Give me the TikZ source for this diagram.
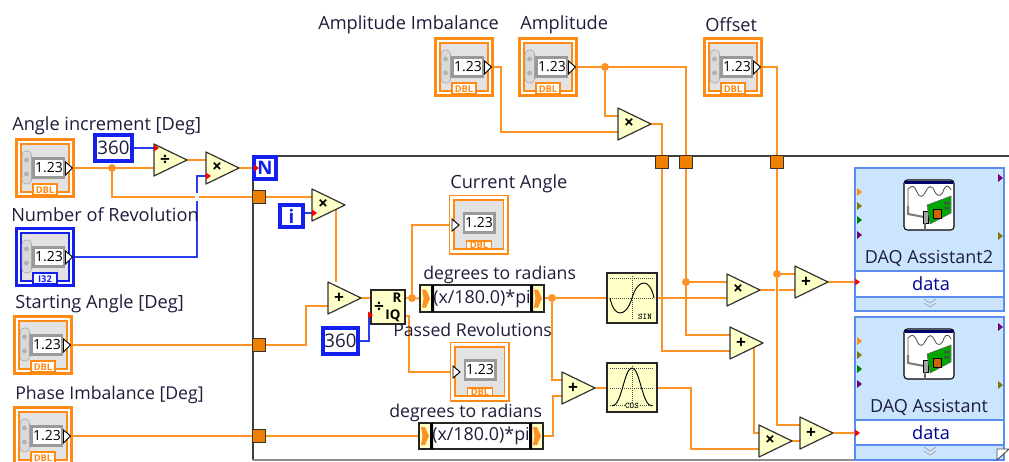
\documentclass[tikz,border=0pt]{standalone}
\usepackage{fontspec}
\setmainfont{Open Sans}
\usetikzlibrary{backgrounds}
\definecolor{wireo}{HTML}{FF9224}
\definecolor{tago}{HTML}{FF8A14}
\definecolor{wireb}{HTML}{2A3CF0}
\definecolor{tagb}{HTML}{1420F0}
\definecolor{prim}{HTML}{FFFFC8}
\definecolor{tun}{HTML}{F08000}
\definecolor{daqb}{HTML}{CCE5FF}
\definecolor{daql}{HTML}{5C8CF0}
\definecolor{ink}{HTML}{1E1E3C}
\definecolor{panel}{HTML}{E2E2E2}
\tikzset{
  x=0.75pt,y=-0.75pt,
  wire/.style={draw=wireo,line width=1.5pt},
  bwire/.style={draw=wireb,line width=1.5pt},
  lab/.style={text=ink,font=\fontsize{13.65pt}{15pt}\selectfont,inner sep=0pt,anchor=west},
  labs/.style={lab,font=\fontsize{13.25pt}{15pt}\selectfont},
  tunnel/.style={draw=black!80,fill=tun,line width=1pt,minimum size=9.5pt,inner sep=0pt,outer sep=0pt},
  junction/.style={fill=wireo,circle,minimum size=6pt,inner sep=0pt},
  primshape/.style={draw=black!80,fill=prim,line width=0.9pt,line join=round},
  constbox/.style={draw=tagb,fill=white,line width=2.4pt,inner sep=0pt,outer sep=0pt,text=ink,font=\fontsize{14pt}{15pt}\selectfont},
  funcbox/.style={draw=black!85,fill=prim,line width=1pt,inner sep=0pt,outer sep=0pt},
  tagtxt/.style={font=\bfseries\fontsize{7pt}{7pt}\selectfont,inner sep=0pt},
  dashgrid/.style={draw=black!70,densely dotted,line width=0.5pt},
}
% box from pixel corners
\newcommand{\pxbox}[7][]{\node[#2,#1,minimum width={(#5-#3)*0.75pt},minimum height={abs(#6-#4)*0.75pt}] (#7) at ({(#3+#5)/2},{(#4+#6)/2})}
% control terminal
\newcommand{\ctlicon}[6]{%
 \begin{scope}[shift={(#2,#3)}]
  \path[draw=#4,line width=2.4pt] (1.5,1.5) rectangle (58.5,58.5);
  \path[draw=#4,fill=panel,line width=1pt] (6,6) rectangle (54,54);
  \path[fill=black!40] (16,19) rectangle (50,41);
  \path[fill=black!15,draw=black!35,line width=.4pt,rounded corners=3pt] (7,13) rectangle (16.5,46);
  \path[fill=black!30] (11.5,22) circle (2.4) (11.5,36) circle (2.4);
  \node[fill=white,inner sep=0pt,minimum width=21pt,minimum height=12.5pt,font=\fontsize{10.5pt}{12pt}\selectfont] (#1-num) at (34,30) {1.23};
  \path[draw=black,fill=white,line width=.7pt] (50.5,24) -- (57.5,30) -- (50.5,37) -- cycle;
  \path[draw=#4,fill=white,line width=1pt] (18,46) rectangle (42,57);
  \node[tagtxt,text=#4] (#1-tag) at (30,52) {#5};
  \coordinate (#1-o) at (59,#6);
 \end{scope}}
% indicator terminal
\newcommand{\indicon}[4]{%
 \begin{scope}[shift={(#2,#3)}]
  \path[draw=tago,fill=white,line width=1.2pt] (0.5,0.5) rectangle (59,59);
  \path[draw=tago,fill=panel,line width=1.2pt] (5,5) rectangle (54.5,54);
  \path[fill=black!40] (14,17) rectangle (47,39);
  \node[fill=white,inner sep=0pt,minimum width=21pt,minimum height=12.5pt,font=\fontsize{10.5pt}{12pt}\selectfont] (#1-num) at (30,28) {1.23};
  \path[draw=black,fill=white,line width=.7pt] (3,24) -- (10,30) -- (3,36) -- cycle;
  \path[draw=tago,fill=white,line width=1pt] (17.5,46) rectangle (42.5,54);
  \node[tagtxt,text=tago] (#1-tag) at (30,50) {#4};
  \coordinate (#1-i) at (0,30);
 \end{scope}}
% primitive triangle: name, left x, top y, symbol
\newcommand{\amp}[4]{%
 \path[primshape] (#2,#3) -- (#2+33,#3+16) -- (#2,#3+32) -- cycle;
 \node[inner sep=0pt,font=\bfseries\fontsize{13pt}{13pt}\selectfont] (#1) at (#2+11,#3+16) {#4};
 \coordinate (#1-a) at (#2,#3+8);
 \coordinate (#1-b) at (#2,#3+24);
 \coordinate (#1-o) at (#2+33,#3+16);}
\newcommand{\redmark}[2]{\path[fill=red] (#1,#2-3.5) -- (#1+5,#2) -- (#1,#2+3.5) -- cycle;}
% expression node
\newcommand{\exprnode}[5]{%
 \pxbox{funcbox}{#2}{#3}{#4}{#5}{#1} {};
 \path[fill=white] (#2+14,#3+1) rectangle (#4-14,#5-1);
 \path[fill=black] (#2+11,#3) rectangle (#2+14,#5) (#4-14,#3) rectangle (#4-11,#5);
 \path[fill=wireo] (#2+2,{(#3+#5)/2-9}) -- (#2+6,{(#3+#5)/2-9}) -- (#2+10,{(#3+#5)/2}) -- (#2+6,{(#3+#5)/2+9}) -- (#2+2,{(#3+#5)/2+9}) -- (#2+3.5,{(#3+#5)/2}) -- cycle;
 \path[fill=wireo] (#4-10,{(#3+#5)/2-9}) -- (#4-6,{(#3+#5)/2-9}) -- (#4-2,{(#3+#5)/2}) -- (#4-6,{(#3+#5)/2+9}) -- (#4-10,{(#3+#5)/2+9}) -- (#4-8.5,{(#3+#5)/2}) -- cycle;
 \node[inner sep=0pt,text=ink,font=\fontsize{13.4pt}{15pt}\selectfont] (#1-t) at ({(#2+#4)/2},{(#3+#5)/2}) {(x/180.0)*pi};
 \coordinate (#1-i) at (#2,{(#3+#5)/2});
 \coordinate (#1-o) at (#4,{(#3+#5)/2});}
% DAQ express block: name, top y, band y1, band y2, bottom y, title
\newcommand{\daq}[6]{%
 \path[draw=daql,fill=daqb,line width=1.2pt] (855,#2) rectangle (1004,#5);
 \path[draw=daql,fill=white,line width=1.2pt] (855,#3) rectangle (1004,#4);
 \coordinate (#1-i) at (855,{(#3+#4)/2});
 \node[text=ink,inner sep=0pt,font=\fontsize{13.5pt}{15pt}\selectfont] (#1-title) at (929,#3-13) {#6};
 \node[text=blue!60!black,inner sep=0pt,font=\fontsize{13.65pt}{15pt}\selectfont] (#1-data) at (931,{(#3+#4)/2}) {data};
 \path[draw=black!35,line width=.6pt] (924,#4+2) -- (930,#4+6) -- (936,#4+2) (924,#4+6) -- (930,#4+10) -- (936,#4+6);
 \begin{scope}[shift={(904,#2+12)}]
  \path[draw=black,fill=white,rounded corners=2.5pt,line width=.8pt] (0,0) rectangle (50,50);
  \path[fill=black!30!blue!60!black] (1,0.5) rectangle (49,4);
  \path[draw=black!70,line width=.6pt] (4,26) -- (4,9) .. controls (8,5) and (10,5) .. (13,12) .. controls (16,19) and (19,17) .. (22,11) .. controls (25,5) and (28,5) .. (31,12) .. controls (34,18) and (38,16) .. (40,9) .. controls (42,5) and (45,5) .. (47,10);
  \path[draw=black!50,line width=1.6pt] (4,26) -- (4,34) -- (20,37);
  \path[fill=black!35,draw=black,line width=.4pt] (19,31) rectangle (24,43);
  \path[fill=green!65!black,draw=black!60,line width=.4pt] (23,25) -- (47,16) -- (47,33) -- (26,44) -- cycle;
  \path[fill=orange!80!black,draw=black,line width=.4pt] (29,29) rectangle (37,38);
  \path[fill=black!70] (40,22) rectangle (45,24) (40,27) rectangle (45,29);
  \path[fill=black!60] (20,43) rectangle (22,50);
 \end{scope}
 \path[fill=tago] (857,#2+20) -- (862,#2+24) -- (857,#2+28) -- cycle;
 \path[fill=olive!90!black] (857,#2+34) -- (862,#2+38) -- (857,#2+42) -- cycle;
 \path[fill=green!50!black] (857,#2+48) -- (862,#2+52) -- (857,#2+56) -- cycle;
 \path[fill=violet!90!black] (857,#2+63) -- (862,#2+67) -- (857,#2+71) -- cycle;
 \path[fill=violet!90!black] (998,#2+6) -- (1003,#2+10) -- (998,#2+14) -- cycle;
 \path[fill=olive!90!black] (998,#2+64) -- (1003,#2+68) -- (998,#2+72) -- cycle;}
\begin{document}
\begin{tikzpicture}
\useasboundingbox (0,0) rectangle (1009,461);
\clip (0,0) rectangle (1009,461);

% ---------- terminals
\ctlicon{angle}{15}{138}{tago}{DBL}{30}
\ctlicon{nrev}{15}{227}{tagb}{I32}{30}
\ctlicon{start}{13}{315}{tago}{DBL}{30}
\ctlicon{phase}{13}{406}{tago}{DBL}{30}
\ctlicon{ampi}{434}{37}{tago}{DBL}{30}
\ctlicon{ampl}{518}{37}{tago}{DBL}{30}
\ctlicon{off}{703}{37}{tago}{DBL}{30}
\indicon{cang}{449}{195}{DBL}
\indicon{prev}{450}{342}{DBL}

% ---------- constants
\pxbox{constbox}{95}{135}{132}{161}{c360a} {360};
\pxbox{constbox}{323}{328}{358}{354}{c360b} {360};
\pxbox[font=\bfseries\fontsize{14pt}{15pt}\selectfont,text=tagb]{constbox}{254}{157}{276}{179}{loopN} {N};
\pxbox[font=\bfseries\fontsize{14pt}{15pt}\selectfont,text=tagb]{constbox}{280}{205}{303}{227}{loopi} {i};

% ---------- primitives
\amp{div}{154}{144}{÷}
\amp{mula}{206}{152}{×}
\amp{mulb}{312}{189}{×}
\amp{adda}{328}{282}{+}
\amp{addb}{562}{372}{+}
\amp{mulc}{618}{108}{×}
\amp{muld}{727}{274}{×}
\amp{adde}{795}{266}{+}
\amp{addf}{730}{327}{+}
\amp{mule}{759}{425}{×}
\amp{addg}{800}{417}{+}

% ---------- quotient & remainder
\pxbox{funcbox}{371}{290}{405}{324}{qr} {};
\node[inner sep=0pt,font=\bfseries\fontsize{13pt}{13pt}\selectfont] (qr-div) at (379,307) {÷};
\node[inner sep=0pt,font=\bfseries\fontsize{10pt}{10pt}\selectfont] (qr-r) at (397,298) {R};
\node[inner sep=0pt,font=\bfseries\fontsize{10pt}{10pt}\selectfont] (qr-iq) at (393,316) {IQ};
\coordinate (qr-ro) at (405,298);
\coordinate (qr-qo) at (405,316);
\coordinate (qr-yi) at (371,315);
\coordinate (qr-xi) at (371,298);

% ---------- expression nodes
\exprnode{exa}{420}{285}{544}{312}
\exprnode{exb}{419}{423}{543}{449}

% ---------- sine and cosine
\pxbox{funcbox}{607}{273}{657}{323}{fsin} {};
\path[dashgrid] (610,278) -- (654,278) (610,298) -- (654,298) (632,276) -- (632,320);
\path[draw=black,line width=.7pt] (610,298) .. controls (614,318) and (626,318) .. (632,298) .. controls (638,278) and (650,278) .. (654,298);
\node[inner sep=0.5pt,font=\bfseries\ttfamily\fontsize{6.5pt}{6pt}\selectfont,fill=prim] (fsin-t) at (645,317) {SIN};
\pxbox{funcbox}{607}{363}{657}{412}{fcos} {};
\path[dashgrid] (610,368) -- (654,368) (610,388) -- (654,388) (632,366) -- (632,408) (610,405) -- (654,405);
\path[draw=black,line width=.7pt] (612,406) .. controls (622,406) and (624,368) .. (632,368) .. controls (640,368) and (642,406) .. (652,406);
\node[inner sep=0.5pt,font=\bfseries\ttfamily\fontsize{6.5pt}{6pt}\selectfont,fill=prim] (fcos-t) at (632,406) {COS};

% ---------- DAQ blocks
\daq{daqa}{168}{271}{297}{311}{DAQ Assistant2}
\daq{daqb}{317}{420}{445}{460}{DAQ Assistant}
\path[draw=black!70,fill=white,line width=.7pt] (997,460) -- (997,449) -- (1009,449) -- cycle;

% ---------- tunnels
\node[tunnel] (ta) at (259,197) {};
\node[tunnel] (tb) at (259,345) {};
\node[tunnel] (tc) at (259,436) {};
\node[tunnel] (td) at (662,162) {};
\node[tunnel] (te) at (686,162) {};
\node[tunnel] (tf) at (777,162) {};

% ---------- wire junctions
\node[junction] (ja) at (112,168) {};
\node[junction] (jb) at (412,298) {};
\node[junction] (jc) at (552,298) {};
\node[junction] (jd) at (605,67) {};
\node[junction] (je) at (686,282) {};
\node[junction] (jf) at (777,274) {};

% ---------- red coercion marks and labels
\redmark{154}{148}
\redmark{206}{176}
\redmark{254}{168}
\redmark{312}{213}
\redmark{368}{315}
\redmark{855}{282}
\redmark{855}{433}

\node[lab] (l1) at (12,126) {Angle increment [Deg]};
\node[lab] (l2) at (11,215) {Number of Revolution};
\node[lab] (l3) at (15,304) {Starting Angle [Deg]};
\node[labs] (l4) at (15,395) {Phase Imbalance [Deg]};
\node[lab] (l5) at (318,25) {Amplitude Imbalance};
\node[lab] (l6) at (520,25) {Amplitude};
\node[lab] (l7) at (705,25) {Offset};
\node[lab] (l8) at (450,184) {Current Angle};
\node[labs] (l9) at (423,275) {degrees to radians};
\node[labs] (l10) at (393,330) {Passed Revolutions};
\node[labs] (l11) at (389,413) {degrees to radians};

% ---------- frame and wires, behind everything
\begin{pgfonlayer}{background}
 \path[fill=white] (0,0) rectangle (1009,461);
 \path[draw=black!75,line width=1.2pt] (253,460) -- (253,156) -- (1009,156);
 \path[draw=black!45,line width=1.2pt] (253,460) -- (854,460);

 % left side
 \path[wire] (angle-o) -- (ja) -- (div-b);
 \path[wire] (ja) |- (ta) -- (mulb-a);
 \path[wire] (div-o) -- (mula-a);
 \path[bwire] (c360a.east) -- (c360a.east -| div-a);
 \path[bwire] (nrev-o) -| (197,176) -- (mula-b);
 \path[draw=white,line width=3pt] (197,193) -- (197,201);
 \path[wire] (ta) -- (mulb-a);
 \path[wire] (mula-o) -- (loopN);
 \path[bwire] (loopi.east |- mulb-b) -- (mulb-b);
 \path[wire] (336,209) -- (336,282);
 \path[wire] (start-o) -- (tb) -- (306,345) |- (adda-b);
 \path[wire] (phase-o) -- (tc) -- (exb-i);

 % middle
 \path[wire] (adda-o) -- (qr-xi);
 \path[bwire] (c360b.east) -- (369,341) -- (369,315) -- (qr-yi);
 \path[wire] (qr-ro) -- (jb) -- (exa-i);
 \path[wire] (jb) |- (cang-i);
 \path[wire] (qr-qo) -- (409,316) -- (409,372) -- (prev-i);
 \path[wire] (exa-o |- jc) -- (jc) -- (fsin.west);
 \path[wire] (jc) |- (addb-a);
 \path[wire] (exb-o) -- (553,436) |- (addb-b);
 \path[wire] (addb-o) -- (fcos.west |- addb-o);

 % top
 \path[wire] (ampi-o) -- (501,67) |- (mulc-b);
 \path[wire] (ampl-o) -- (jd) -- (686,67) -- (te);
 \path[wire] (jd) |- (mulc-a);
 \path[wire] (mulc-o) -| (td);
 \path[wire] (off-o) -- (777,67) -- (tf);

 % right
 \path[wire] (td) |- (addf-b);
 \path[wire] (te) |- (addf-a);
 \path[wire] (fsin.east |- muld-b) -- (muld-b);
 \path[wire] (je) -- (muld-a);
 \path[wire] (muld-o) -- (adde-b);
 \path[draw=white,line width=3pt] (777,287) -- (777,293);
 \path[wire] (tf) |- (addg-a);
 \path[wire] (jf) -- (adde-a);
 \path[wire] (adde-o) -- (adde-o -| daqa-i);
 \path[wire] (754,347) -- (754,433) -- (mule-a);
 \path[wire] (fcos.east) -| (691,449) -- (mule-b);
 \path[wire] (mule-o) -- (addg-b);
 \path[wire] (addg-o) -- (addg-o -| daqb-i);
\end{pgfonlayer}
\end{tikzpicture}
\end{document}
